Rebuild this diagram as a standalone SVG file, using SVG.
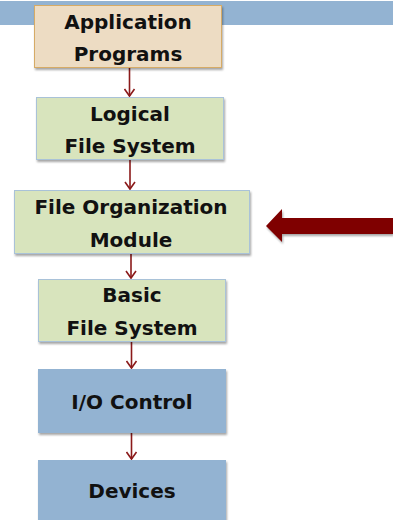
<svg xmlns="http://www.w3.org/2000/svg" width="393" height="520" viewBox="0 0 393 520">
<defs>
<filter id="sh" x="-10%" y="-10%" width="120%" height="130%">
<feDropShadow dx="1" dy="2" stdDeviation="1.2" flood-color="#000" flood-opacity="0.35"/>
</filter>
<marker id="ah" markerWidth="10" markerHeight="12" refX="8" refY="6" orient="auto" markerUnits="userSpaceOnUse" viewBox="0 0 10 12">
<path d="M1,1 L8,6 L1,11" fill="none" stroke="#8b1a1a" stroke-width="1.6"/>
</marker>
</defs>
<style>
.t{font-family:"DejaVu Sans","Liberation Sans",Arial,sans-serif;font-weight:bold;font-size:20px;fill:#111;text-anchor:middle}
.tan{fill:#eddcc3;stroke:#d6ab66;stroke-width:1}
.grn{fill:#d8e4bd;stroke:#a9c2d8;stroke-width:1}
.blu{fill:#93b3d2;stroke:#93b3d2;stroke-width:1}
.c{stroke:#8b1a1a;stroke-width:1.6;fill:none}
</style>
<rect x="0" y="1" width="393" height="24" fill="#93b3d2"/>
<g id="connectors">
<line class="c" x1="129.5" y1="67" x2="129.5" y2="96" marker-end="url(#ah)"/>
<line class="c" x1="130" y1="159" x2="130" y2="189" marker-end="url(#ah)"/>
<line class="c" x1="131" y1="253" x2="131" y2="278" marker-end="url(#ah)"/>
<line class="c" x1="131.5" y1="341" x2="131.5" y2="368" marker-end="url(#ah)"/>
<line class="c" x1="131.5" y1="433" x2="131.5" y2="459" marker-end="url(#ah)"/>
<path id="bigarrow" d="M266,226 L282,209 L282,218 L393,218 L393,234 L282,234 L282,242 Z" fill="#7f0000" filter="url(#sh)"/>
</g>
<g id="app">
<rect class="tan" x="34.5" y="5.5" width="187" height="62" filter="url(#sh)"/>
<text class="t" x="128" y="29">Application</text>
<text class="t" x="128" y="61">Programs</text>
</g>
<g id="lfs">
<rect class="grn" x="36.5" y="97.5" width="187" height="62" filter="url(#sh)"/>
<text class="t" x="130" y="121">Logical</text>
<text class="t" x="130" y="153">File System</text>
</g>
<g id="fom">
<rect class="grn" x="14.5" y="190.5" width="235" height="63" filter="url(#sh)"/>
<text class="t" x="131" y="214">File Organization</text>
<text class="t" x="131" y="247">Module</text>
</g>
<g id="bfs">
<rect class="grn" x="38.5" y="279.5" width="187" height="62" filter="url(#sh)"/>
<text class="t" x="132" y="302">Basic</text>
<text class="t" x="132" y="335">File System</text>
</g>
<g id="io">
<rect class="blu" x="38.5" y="369.5" width="187" height="63" filter="url(#sh)"/>
<text class="t" x="132" y="409">I/O Control</text>
</g>
<g id="dev">
<rect class="blu" x="38.5" y="460.5" width="187" height="65" filter="url(#sh)"/>
<text class="t" x="132" y="498">Devices</text>
</g>
</svg>
